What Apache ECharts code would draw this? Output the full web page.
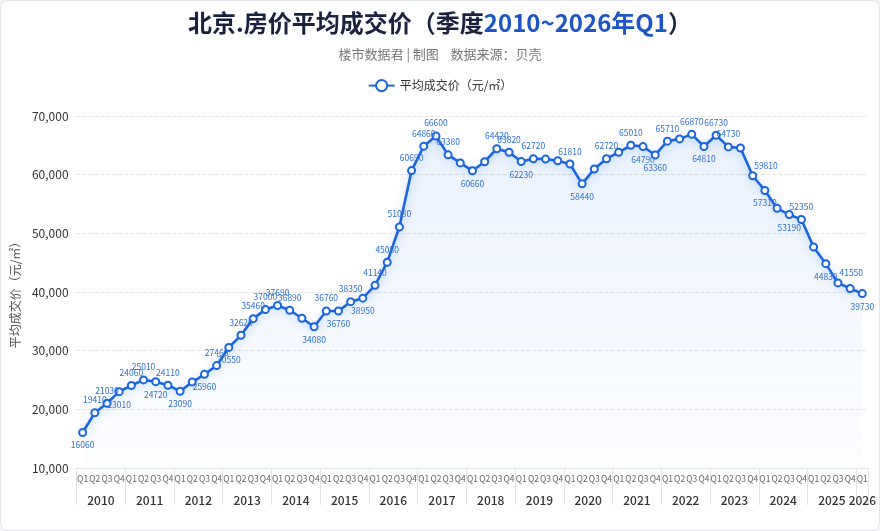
<!DOCTYPE html>
<html>
<head>
<meta charset="utf-8">
<title>北京.房价平均成交价</title>
<script src="https://cdn.jsdelivr.net/npm/echarts@6/dist/echarts.min.js"></script>
<style>
  html, body { margin: 0; padding: 0; background: #f2f3f5; }
  #main { width: 878px; height: 529px; background: #fff; border: 1px solid #e3e5e8; border-radius: 8px; }
</style>
</head>
<body>
<div id="main"></div>
<script>
// 年份 + 季度
var years = [2010, 2011, 2012, 2013, 2014, 2015, 2016, 2017, 2018, 2019, 2020, 2021, 2022, 2023, 2024, 2025, 2026];
var quarters = ['Q1', 'Q2', 'Q3', 'Q4'];

// 平均成交价（元/㎡），2010Q1 ~ 2026Q1
var prices = [
  16060, 19410, 21030, 23010,
  24060, 25010, 24720, 24110,
  23090, 24650, 25960, 27460,
  30550, 32620, 35460, 37000,
  37690, 36890, 35520, 34080,
  36760, 36760, 38350, 38950,
  41140, 45080, 51080, 60690,
  64860, 66600, 63380, 62000,
  60660, 62200, 64420, 63820,
  62230, 62720, 62650, 62380,
  61810, 58440, 60960, 62720,
  63800, 65010, 64790, 63360,
  65710, 66100, 66870, 64810,
  66730, 64730, 64540, 59810,
  57310, 54270, 53190, 52350,
  47670, 44830, 41550, 40600,
  39730
];

// 标签放在点下方 / 右侧的序号，以及不显示标签的序号
var labelBelow = [0, 3, 6, 8, 10, 12, 19, 21, 23, 32, 36, 41, 46, 47, 51, 56, 58, 61, 64];
var labelRight = [55, 62];
var labelHidden = [9, 18, 31, 33, 38, 39, 42, 44, 49, 54, 57, 60, 63];

var yTicks = [10000, 20000, 30000, 40000, 50000, 60000, 70000];

var categories = [];
years.forEach(function (y) {
  quarters.forEach(function (q) {
    if (categories.length < prices.length) categories.push(y + q);
  });
});

// 年份分隔线 & 年份标签位置（与类目轴对齐）
var yearEdges = [];
var yearCenters = [];
years.forEach(function (y, i) {
  var start = i * 4;
  var end = Math.min(start + 4, categories.length);
  yearEdges.push(start - 0.5);
  yearCenters.push((start + end - 1) / 2);
});
yearEdges.push(categories.length - 0.5);

var seriesData = prices.map(function (v, i) {
  var item = { value: v };
  if (labelHidden.indexOf(i) > -1) {
    item.label = { show: false };
  } else if (labelBelow.indexOf(i) > -1) {
    item.label = { position: 'bottom' };
  } else if (labelRight.indexOf(i) > -1) {
    item.label = { position: [6, -10] };
  }
  return item;
});

var FONT = '"Noto Sans CJK SC", "Noto Sans", sans-serif';
var BLUE = '#1a66de';

var myChart = echarts.init(document.getElementById('main'));
var option = {
  textStyle: { fontFamily: FONT },
  title: {
    text: '{a|北京.房价平均成交价（季度}{b|2010~2026年Q1}{a|）}',
    subtext: '楼市数据君 | 制图    数据来源：贝壳',
    left: 'center',
    top: 5,
    itemGap: 13,
    textStyle: {
      rich: {
        a: { fontSize: 24, fontWeight: 'bold', color: '#1b2240', fontFamily: FONT },
        b: { fontSize: 24, fontWeight: 'bold', color: '#1d56c4', fontFamily: FONT }
      }
    },
    subtextStyle: { fontSize: 13, color: '#777', fontFamily: FONT }
  },
  legend: {
    top: 73,
    left: 'center',
    itemWidth: 26,
    itemHeight: 14,
    textStyle: { fontSize: 12, color: '#333' },
    data: ['平均成交价（元/㎡）']
  },
  grid: { left: 75, right: 9, top: 115, bottom: 62 },
  xAxis: [
    {
      type: 'category',
      data: categories,
      boundaryGap: true,
      axisTick: { show: false },
      axisLine: { lineStyle: { color: '#e2e4e8' } },
      axisLabel: {
        interval: 0,
        fontSize: 8.5,
        color: '#666',
        margin: 7,
        formatter: function (v) { return v.slice(4); }
      }
    },
    {
      type: 'value',
      min: -0.5,
      max: categories.length - 0.5,
      position: 'bottom',
      axisLine: { show: false },
      splitLine: { show: false },
      axisTick: {
        show: true,
        customValues: yearEdges,
        length: 37,
        lineStyle: { color: '#e2e4e8' }
      },
      axisLabel: {
        customValues: yearCenters,
        margin: 26,
        fontSize: 12,
        fontWeight: 500,
        color: '#333',
        formatter: function (v) {
          return String(years[Math.round((v + 0.5) / 4 - 0.49)] || years[years.length - 1]);
        }
      }
    }
  ],
  yAxis: {
    type: 'value',
    min: yTicks[0],
    max: yTicks[yTicks.length - 1],
    interval: yTicks[1] - yTicks[0],
    name: '平均成交价（元/㎡）',
    nameLocation: 'middle',
    nameGap: 52,
    nameTextStyle: { fontSize: 12, color: '#555' },
    axisLine: { show: false },
    axisTick: { show: false },
    axisLabel: {
      fontSize: 12,
      color: '#333',
      margin: 8,
      formatter: function (v) { return v.toLocaleString('en-US'); }
    },
    splitLine: { lineStyle: { color: '#e6e6e6', type: 'dashed' } }
  },
  series: [
    {
      name: '平均成交价（元/㎡）',
      type: 'line',
      xAxisIndex: 0,
      data: seriesData,
      symbol: 'emptyCircle',
      symbolSize: 7,
      showAllSymbol: true,
      itemStyle: { color: BLUE, borderWidth: 1.6 },
      lineStyle: {
        width: 2.6,
        color: BLUE,
        shadowColor: 'rgba(26, 102, 222, 0.35)',
        shadowBlur: 8,
        shadowOffsetY: 2
      },
      areaStyle: {
        color: new echarts.graphic.LinearGradient(0, 0, 0, 1, [
          { offset: 0, color: 'rgba(40, 120, 235, 0.14)' },
          { offset: 1, color: 'rgba(40, 120, 235, 0.02)' }
        ])
      },
      label: {
        show: true,
        position: 'top',
        distance: 4,
        fontSize: 8.5,
        color: '#2f6fd6'
      }
    }
  ]
};
myChart.setOption(option);
</script>
</body>
</html>
